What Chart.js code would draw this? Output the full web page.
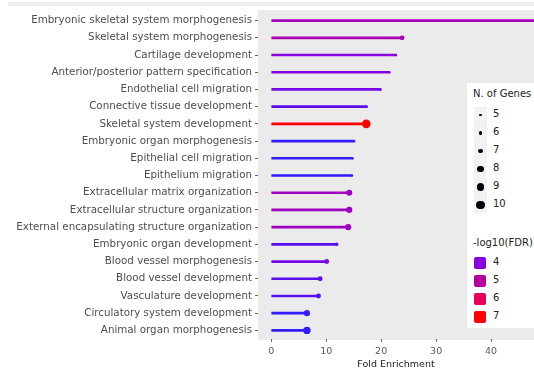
<!DOCTYPE html>
<html>
<head>
<meta charset="utf-8">
<script src="https://cdn.jsdelivr.net/npm/chart.js@4"></script>
<style>
    html, body { margin: 0; padding: 0; background: #fff; }
    #wrap { position: relative; width: 534px; height: 373px; overflow: hidden; font-family: "DejaVu Sans", sans-serif; }
    #topband { position: absolute; left: 8px; top: 2px; width: 526px; height: 4px; background: #efefef; }
    #leyenda { position: absolute; left: 467px; top: 83px; width: 80px; height: 245px; background: #fff; color: #222; font-size: 10px; }
    .titulo { position: absolute; left: 6px; white-space: nowrap; }
    .llave { position: absolute; left: 7px; width: 13px; background: #f2f2f2; }
    .punto { position: absolute; background: #000; border-radius: 50%; }
    .cuadro { position: absolute; width: 12px; height: 12px; border-radius: 2px; }
    .etq { position: absolute; left: 26px; }
</style>
</head>
<body>
<div id="wrap">
    <div id="topband"></div>
    <canvas id="graficaEnriquecimiento" width="534" height="373"></canvas>
    <div id="leyenda"></div>
</div>
<script>
// Términos GO (de arriba hacia abajo)
const terminos = [
    'Embryonic skeletal system morphogenesis',
    'Skeletal system morphogenesis',
    'Cartilage development',
    'Anterior/posterior pattern specification',
    'Endothelial cell migration',
    'Connective tissue development',
    'Skeletal system development',
    'Embryonic organ morphogenesis',
    'Epithelial cell migration',
    'Epithelium migration',
    'Extracellular matrix organization',
    'Extracellular structure organization',
    'External encapsulating structure organization',
    'Embryonic organ development',
    'Blood vessel morphogenesis',
    'Blood vessel development',
    'Vasculature development',
    'Circulatory system development',
    'Animal organ morphogenesis'
];

// Fold enrichment
const foldEnrichment = [49, 23.8, 22.7, 21.5, 19.9, 17.4, 17.3, 15.1, 14.8, 14.7, 14.2, 14.2, 14.0, 11.9, 10.1, 8.9, 8.6, 6.5, 6.5];

// -log10(FDR) por término
const log10FDR = [4.6, 4.7, 4.0, 4.0, 3.8, 3.6, 7.0, 3.1, 3.1, 3.1, 4.5, 4.5, 4.5, 3.5, 3.8, 3.5, 3.5, 3.1, 3.1];

// Número de genes por término
const nGenes = [5, 7, 5, 5, 5, 5, 10, 5, 5, 5, 8, 8, 8, 6, 7, 7, 7, 8, 9];

// Ticks y leyendas
const ticksX = [0, 10, 20, 30, 40];
const leyendaGenes = [5, 6, 7, 8, 9, 10];
const leyendaFDR = [4, 5, 6, 7];

// Escala de color (gradiente azul -> rojo)
const paradasFDR = [3, 4, 5, 6, 7];
const coloresParada = [[40, 30, 255], [136, 0, 224], [184, 0, 160], [230, 0, 90], [255, 0, 0]];

function colorFDR(v) {
    if (v <= paradasFDR[0]) return 'rgb(' + coloresParada[0].join(',') + ')';
    for (let i = 1; i < paradasFDR.length; i++) {
        if (v <= paradasFDR[i]) {
            const t = (v - paradasFDR[i - 1]) / (paradasFDR[i] - paradasFDR[i - 1]);
            const a = coloresParada[i - 1], b = coloresParada[i];
            const c = a.map((x, k) => Math.round(x + (b[k] - x) * t));
            return 'rgb(' + c.join(',') + ')';
        }
    }
    return 'rgb(' + coloresParada[coloresParada.length - 1].join(',') + ')';
}

function radioGenes(n) {
    return 1.2 + (n - 5) * 0.62;
}

const colores = log10FDR.map(colorFDR);
const radios = nGenes.map(radioGenes);

// Fondo gris del panel
const fondoPanel = {
    id: 'fondoPanel',
    beforeDraw(chart) {
        const a = chart.chartArea;
        const ctx = chart.ctx;
        ctx.save();
        ctx.fillStyle = '#ebebeb';
        ctx.fillRect(a.left, a.top - 2, a.right - a.left, a.bottom - a.top + 3);
        ctx.restore();
    }
};

const ctx = document.getElementById('graficaEnriquecimiento').getContext('2d');
const grafica = new Chart(ctx, {
    type: 'bar',
    data: {
        labels: terminos,
        datasets: [{
            data: foldEnrichment,
            backgroundColor: colores,
            barThickness: 2,
            borderWidth: 0,
            order: 2
        }, {
            type: 'line',
            data: foldEnrichment,
            showLine: false,
            pointRadius: radios,
            pointBackgroundColor: colores,
            pointBorderWidth: 0,
            order: 1
        }]
    },
    plugins: [fondoPanel],
    options: {
        indexAxis: 'y',
        responsive: false,
        animation: false,
        layout: { autoPadding: false, padding: { top: 12, right: 0, left: 0, bottom: 3 } },
        plugins: {
            legend: { display: false },
            tooltip: { enabled: false }
        },
        scales: {
            x: {
                min: -2.4,
                max: 47.8,
                afterBuildTicks(scale) {
                    scale.ticks = ticksX.map(v => ({ value: v }));
                },
                afterFit(scale) {
                    scale.height = 31;
                    scale.paddingRight = 0;
                    scale.paddingLeft = 0;
                },
                grid: { drawOnChartArea: false, color: '#666', tickLength: 3 },
                border: { display: false },
                ticks: { color: '#5a5a5a', font: { family: 'DejaVu Sans', size: 9.5 }, padding: 4 },
                title: { display: true, text: 'Fold Enrichment', color: '#222', font: { family: 'DejaVu Sans', size: 9.5 }, padding: { top: 0, bottom: 0 } }
            },
            y: {
                afterFit(scale) { scale.width = 258; },
                grid: { drawOnChartArea: false, color: '#666', tickLength: 3, offset: false },
                border: { display: false },
                ticks: { color: '#4d4d4d', font: { family: 'DejaVu Sans', size: 10.3 }, padding: 3, autoSkip: false }
            }
        }
    }
});

// Leyenda a la derecha
function crearLeyenda() {
    const cont = document.getElementById('leyenda');
    let html = '<div class="titulo" style="top:5px">N. of Genes</div>';
    html += '<div class="llave" style="top:24px;height:106px"></div>';
    leyendaGenes.forEach((n, i) => {
        const cy = 32 + i * 18;
        const r = radioGenes(n);
        html += '<div class="punto" style="left:' + (13.5 - r) + 'px;top:' + (cy - r) + 'px;width:' + (2 * r) + 'px;height:' + (2 * r) + 'px"></div>';
        html += '<div class="etq" style="top:' + (cy - 7) + 'px">' + n + '</div>';
    });
    html += '<div class="titulo" style="top:154px">-log10(FDR)</div>';
    leyendaFDR.forEach((v, i) => {
        const cy = 180 + i * 18;
        html += '<div class="cuadro" style="left:7px;top:' + (cy - 6) + 'px;background:' + colorFDR(v) + '"></div>';
        html += '<div class="etq" style="top:' + (cy - 7) + 'px">' + v + '</div>';
    });
    cont.innerHTML = html;
}

document.addEventListener('DOMContentLoaded', crearLeyenda);
</script>
</body>
</html>
